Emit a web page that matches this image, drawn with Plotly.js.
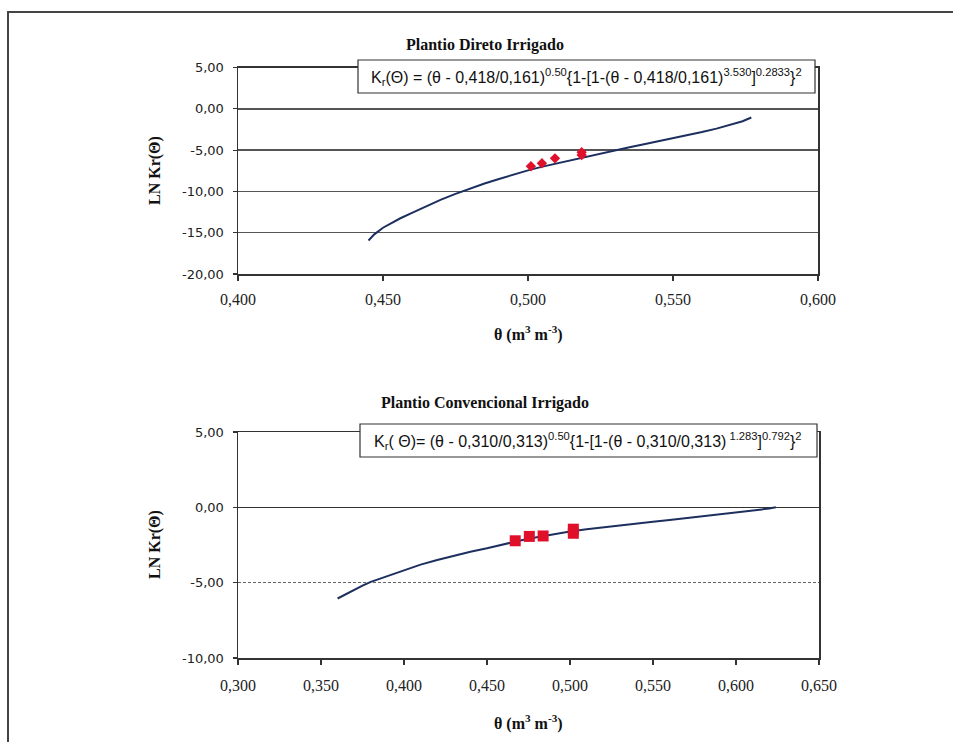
<!DOCTYPE html>
<html><head><meta charset="utf-8">
<script src="https://cdn.plot.ly/plotly-3.0.1.min.js"></script>
<style>html,body{margin:0;padding:0;background:#fff}#chart{width:953px;height:742px}</style>
</head><body><div id="chart"></div>
<script>
// ---- Data: Plantio Direto Irrigado ----
const directTheta = [0.445,0.447,0.450,0.453,0.456,0.460,0.465,0.470,0.475,0.480,0.485,0.490,0.495,0.500,0.505,0.510,0.515,0.520,0.525,0.530,0.535,0.540,0.545,0.550,0.555,0.560,0.565,0.570,0.574,0.577];
const directLnK  = [-15.95,-15.2,-14.4,-13.8,-13.25,-12.6,-11.8,-11.0,-10.3,-9.65,-9.05,-8.5,-7.95,-7.45,-7.0,-6.6,-6.2,-5.8,-5.4,-5.0,-4.65,-4.3,-3.95,-3.58,-3.2,-2.82,-2.4,-1.95,-1.5,-1.05];
const directObsTheta = [0.501,0.5048,0.5093,0.5185,0.5185];
const directObsLnK   = [-6.95,-6.6,-6.0,-5.25,-5.6];
// ---- Data: Plantio Convencional Irrigado ----
const convTheta = [0.360,0.365,0.370,0.375,0.380,0.390,0.400,0.410,0.420,0.430,0.440,0.450,0.460,0.470,0.480,0.490,0.500,0.510,0.520,0.530,0.540,0.550,0.560,0.570,0.580,0.590,0.600,0.610,0.620,0.624];
const convLnK   = [-6.05,-5.75,-5.45,-5.2,-4.95,-4.55,-4.15,-3.8,-3.5,-3.2,-2.95,-2.72,-2.45,-2.2,-1.98,-1.78,-1.6,-1.45,-1.32,-1.18,-1.06,-0.95,-0.84,-0.72,-0.6,-0.48,-0.36,-0.22,-0.08,0.0];
const convObsTheta = [0.467,0.4755,0.4838,0.502,0.502];
const convObsLnK   = [-2.22,-1.93,-1.9,-1.45,-1.72];
// ---- Tick labels ----
const topXVals = [0.40,0.45,0.50,0.55,0.60];
const topXText = ["0,400","0,450","0,500","0,550","0,600"];
const topYVals = [5,0,-5,-10,-15,-20];
const topYText = ["5,00","0,00","-5,00","-10,00","-15,00","-20,00"];
const botXVals = [0.30,0.35,0.40,0.45,0.50,0.55,0.60,0.65];
const botXText = ["0,300","0,350","0,400","0,450","0,500","0,550","0,600","0,650"];
const botYVals = [5,0,-5,-10];
const botYText = ["5,00","0,00","-5,00","-10,00"];
const titleTop = "Plantio Direto Irrigado";
const titleBot = "Plantio Convencional Irrigado";
const eqTop = "K<sub>r</sub>(Θ) = (θ - 0,418/0,161)<sup>0.50</sup>{1-[1-(θ - 0,418/0,161)<sup>3.530</sup>]<sup>0.2833</sup>}<sup>2</sup>";
const eqBot = "K<sub>r</sub>( Θ)= (θ - 0,310/0,313)<sup>0.50</sup>{1-[1-(θ - 0,310/0,313)<sup> 1.283</sup>]<sup>0.792</sup>}<sup>2</sup>";
const yTitle = "LN Kr(Θ)";
const xTitle = "θ (m<sup>3</sup> m<sup>-3</sup>)";

const W = 953, H = 742;
const px = x => x / W;
const py = y => 1 - y / H;

const lineColor = "#1c2f5e";
const red = "#e0102a";

const traces = [
  {x: directTheta, y: directLnK, type: "scatter", mode: "lines", line: {color: lineColor, width: 2}, xaxis: "x", yaxis: "y", hoverinfo: "skip"},
  {x: directObsTheta, y: directObsLnK, type: "scatter", mode: "markers", marker: {symbol: "diamond", size: 8, color: red}, xaxis: "x", yaxis: "y"},
  {x: convTheta, y: convLnK, type: "scatter", mode: "lines", line: {color: lineColor, width: 2}, xaxis: "x2", yaxis: "y2", hoverinfo: "skip"},
  {x: convObsTheta, y: convObsLnK, type: "scatter", mode: "markers", marker: {symbol: "square", size: 11, color: red}, xaxis: "x2", yaxis: "y2"}
];

const xTickFont = {family: "Liberation Serif, serif", size: 16, color: "#222"};
const yTickFont = {family: "DejaVu Sans, sans-serif", size: 13, color: "#222"};
const axCommon = {showline: true, mirror: true, linecolor: "#333", linewidth: 1.5, ticks: "outside", ticklen: 5, tickcolor: "#333", tickwidth: 1.2, zeroline: false, fixedrange: true};

const layout = {
  width: W, height: H,
  margin: {l: 0, r: 0, t: 0, b: 0},
  paper_bgcolor: "#fff", plot_bgcolor: "#fff",
  showlegend: false,
  xaxis: Object.assign({}, axCommon, {domain: [px(238), px(818)], range: [0.4, 0.6], tickvals: topXVals, ticktext: topXText, tickfont: xTickFont, showgrid: false, anchor: "y", ticklabelstandoff: 5}),
  yaxis: Object.assign({}, axCommon, {domain: [py(274), py(67.5)], range: [-20, 5], tickvals: topYVals, ticktext: topYText, tickfont: yTickFont, showgrid: true, gridcolor: "#555", gridwidth: 1.4, anchor: "x", ticklen: 4, ticklabelstandoff: 6}),
  xaxis2: Object.assign({}, axCommon, {domain: [px(238), px(819)], range: [0.3, 0.65], tickvals: botXVals, ticktext: botXText, tickfont: xTickFont, showgrid: false, anchor: "y2", ticklabelstandoff: 7}),
  yaxis2: Object.assign({}, axCommon, {domain: [py(658), py(432)], range: [-10, 5], tickvals: botYVals, ticktext: botYText, tickfont: yTickFont, showgrid: true, gridcolor: "#666", gridwidth: 1, griddash: "3px,2px", zeroline: true, zerolinecolor: "#333", zerolinewidth: 1.4, anchor: "x2", ticklen: 4, ticklabelstandoff: 6}),
  shapes: [
    {type: "rect", xref: "paper", yref: "paper", x0: px(8), x1: 1.02, y0: -0.02, y1: py(12), line: {color: "#444", width: 2}, fillcolor: "rgba(0,0,0,0)", layer: "below"},
    {type: "rect", xref: "paper", yref: "paper", x0: px(358), x1: px(815), y0: py(93), y1: py(60), line: {color: "#333", width: 1.2}, fillcolor: "#fff", layer: "above"},
    {type: "rect", xref: "paper", yref: "paper", x0: px(360), x1: px(817), y0: py(457), y1: py(424), line: {color: "#333", width: 1.2}, fillcolor: "#fff", layer: "above"}
  ],
  annotations: [
    {text: "<b>" + titleTop + "</b>", xref: "paper", yref: "paper", x: px(485), y: py(45), xanchor: "center", yanchor: "middle", showarrow: false, font: {family: "Liberation Serif, serif", size: 16, color: "#111"}},
    {text: "<b>" + titleBot + "</b>", xref: "paper", yref: "paper", x: px(485), y: py(403), xanchor: "center", yanchor: "middle", showarrow: false, font: {family: "Liberation Serif, serif", size: 16, color: "#111"}},
    {text: eqTop, xref: "paper", yref: "paper", x: px(586), y: py(77), xanchor: "center", yanchor: "middle", showarrow: false, font: {family: "Liberation Sans, Arial, sans-serif", size: 16, color: "#111"}},
    {text: eqBot, xref: "paper", yref: "paper", x: px(588), y: py(441), xanchor: "center", yanchor: "middle", showarrow: false, font: {family: "Liberation Sans, Arial, sans-serif", size: 16, color: "#111"}},
    {text: "<b>" + yTitle + "</b>", xref: "paper", yref: "paper", x: px(155), y: py(171), xanchor: "center", yanchor: "middle", textangle: -90, showarrow: false, font: {family: "Liberation Serif, serif", size: 16, color: "#111"}},
    {text: "<b>" + yTitle + "</b>", xref: "paper", yref: "paper", x: px(155), y: py(545), xanchor: "center", yanchor: "middle", textangle: -90, showarrow: false, font: {family: "Liberation Serif, serif", size: 16, color: "#111"}},
    {text: "<b>" + xTitle + "</b>", xref: "paper", yref: "paper", x: px(528), y: py(333), xanchor: "center", yanchor: "middle", showarrow: false, font: {family: "Liberation Serif, serif", size: 16, color: "#111"}},
    {text: "<b>" + xTitle + "</b>", xref: "paper", yref: "paper", x: px(528), y: py(722), xanchor: "center", yanchor: "middle", showarrow: false, font: {family: "Liberation Serif, serif", size: 16, color: "#111"}}
  ]
};

Plotly.newPlot("chart", traces, layout, {staticPlot: true, displayModeBar: false});
</script>
</body></html>
